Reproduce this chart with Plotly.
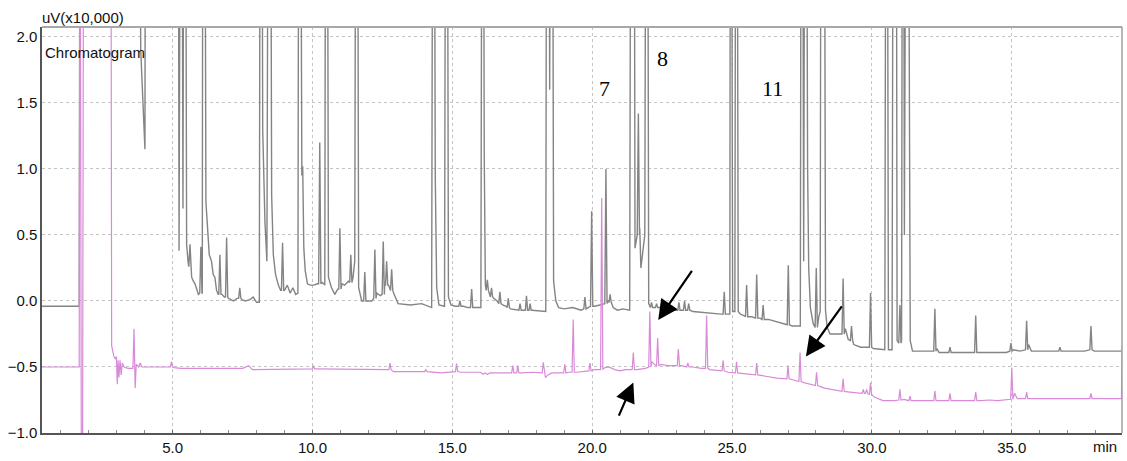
import plotly.graph_objects as go

OFF = 4.0  # value beyond the visible range (off-scale peak)

# ---------------- data (time in min, signal in uV x10,000) ----------------
GRAY_PROFILE = [
    (0.33, -0.04), (1.66, -0.04), (1.69, OFF), (3.80, OFF), (3.86, 1.9), (3.96, 1.3), (4.01, 1.15), (4.03, OFF),
    (5.20, OFF), (5.23, 0.38), (5.28, OFF), (5.33, OFF), (5.37, 0.70), (5.40, OFF), (5.46, OFF), (5.50, 0.43), (5.55, 0.30),
    (5.68, 0.18), (5.74, 0.15), (5.80, 0.13), (5.86, 0.09), (5.92, 0.05),
    (6.06, 0.06), (6.08, OFF), (6.15, OFF), (6.19, 0.75), (6.23, 0.58), (6.31, 0.35), (6.39, 0.30), (6.45, 0.20),
    (6.51, 0.18), (6.57, 0.08), (6.63, 0.05),
    (6.76, 0.05), (6.85, 0.03), (7.00, 0.02), (7.08, 0.01), (7.18, 0.0), (7.30, 0.02), (7.48, 0.01), (7.60, 0.0),
    (7.76, 0.01), (7.88, 0.03), (8.00, -0.01), (8.10, -0.01),
    (8.13, OFF), (8.19, OFF), (8.22, 1.3), (8.30, 0.6), (8.37, 0.30), (8.42, OFF), (8.50, OFF), (8.54, 0.8),
    (8.60, 0.35), (8.68, 0.20), (8.78, 0.12), (8.86, 0.08),
    (9.00, 0.08), (9.10, 0.12), (9.20, 0.06), (9.30, 0.10), (9.40, 0.05), (9.48, 0.06), (9.51, OFF), (9.57, OFF),
    (9.60, 1.2), (9.62, 0.95), (9.65, 1.02), (9.69, 0.40), (9.74, 0.23), (9.82, 0.13), (9.92, 0.12), (10.05, 0.12),
    (10.18, 0.13), (10.35, 0.14), (10.44, 0.12), (10.47, OFF), (10.53, OFF), (10.57, 0.18), (10.68, 0.10),
    (10.80, 0.05), (10.90, 0.09),
    (11.05, 0.13), (11.15, 0.12), (11.28, 0.15), (11.45, 0.18), (11.51, 0.30), (11.55, OFF), (11.61, OFF),
    (11.65, 0.10), (11.76, 0.0),
    (11.95, 0.0), (12.12, 0.0), (12.30, 0.06), (12.42, 0.04), (12.58, 0.12), (12.72, 0.12), (12.90, 0.06),
    (13.06, -0.02), (13.50, -0.03), (13.90, -0.02), (14.26, -0.05),
    (14.30, OFF), (14.35, OFF), (14.39, 0.93), (14.44, 0.10), (14.52, -0.03), (14.72, -0.04), (14.76, OFF),
    (14.82, OFF), (14.86, 0.03), (14.95, -0.03), (15.10, -0.04), (15.40, -0.04), (15.55, -0.05), (15.80, -0.05),
    (16.02, -0.05),
    (16.06, OFF), (16.11, OFF), (16.14, 1.1), (16.18, 0.12), (16.32, 0.05), (16.48, 0.02), (16.60, 0.0),
    (16.80, -0.03), (16.92, -0.04), (17.08, -0.06), (17.30, -0.07), (17.55, -0.07), (17.72, -0.07),
    (17.85, -0.07), (18.19, -0.08), (18.34, -0.08),
    (18.37, OFF), (18.45, OFF), (18.48, 1.6), (18.51, OFF), (18.58, OFF), (18.62, 0.15), (18.70, 0.0),
    (18.80, -0.05), (19.00, -0.06), (19.30, -0.05), (19.60, -0.07), (19.85, -0.05), (20.10, -0.04), (20.30, -0.03),
    (20.56, 0.0), (20.75, -0.05), (20.90, -0.07), (21.10, -0.06), (21.34, -0.07),
    (21.38, OFF), (21.50, OFF), (21.53, 0.40), (21.59, 0.50), (21.70, 0.55), (21.74, 0.25), (21.80, 0.35),
    (21.88, 0.5), (21.92, OFF), (21.98, OFF), (22.02, -0.02), (22.20, -0.05), (22.40, -0.05), (22.60, -0.07),
    (22.90, -0.07), (23.20, -0.07), (23.37, -0.07), (23.60, -0.08), (24.00, -0.09), (24.40, -0.10), (24.60, -0.10),
    (24.84, -0.10), (24.92, -0.10),
    (24.94, OFF), (24.98, OFF), (25.02, -0.08), (25.10, -0.08), (25.13, OFF), (25.18, OFF), (25.22, -0.08),
    (25.30, -0.10), (25.42, -0.11), (25.70, -0.12), (26.00, -0.13), (26.30, -0.14), (26.60, -0.16), (26.90, -0.18),
    (27.15, -0.19), (27.40, -0.19), (27.44, -0.19),
    (27.47, OFF), (27.52, OFF), (27.56, 0.3), (27.60, OFF), (27.66, OFF), (27.70, 1.02), (27.74, 0.25),
    (27.80, -0.05), (27.90, -0.17), (28.10, -0.12), (28.15, -0.08), (28.18, OFF), (28.30, OFF), (28.34, -0.07),
    (28.40, -0.20), (28.50, -0.25), (28.85, -0.25), (29.05, -0.21), (29.15, -0.29), (29.35, -0.33), (29.60, -0.35),
    (29.85, -0.35), (30.05, -0.36), (30.46, -0.37),
    (30.50, OFF), (30.55, OFF), (30.59, -0.37), (30.72, -0.37), (30.76, OFF), (30.87, OFF), (30.90, -0.30),
    (31.06, -0.30), (31.09, OFF), (31.13, OFF), (31.16, 0.5), (31.22, OFF), (31.30, OFF), (31.33, 1.3),
    (31.37, -0.30), (31.45, -0.38),
    (31.60, -0.38), (32.10, -0.38), (32.32, -0.36), (32.40, -0.39), (33.00, -0.39), (33.50, -0.39), (34.00, -0.39),
    (34.80, -0.39), (35.06, -0.37), (35.30, -0.38), (35.60, -0.33), (35.70, -0.38), (36.50, -0.38), (37.60, -0.38),
    (37.95, -0.38), (38.94, -0.38),
]

GRAY_PEAK_T = [5.62, 6.01, 6.69, 6.93, 7.40, 8.93, 10.26, 10.98, 11.37, 11.87, 12.23, 12.53, 12.65, 12.83,
               15.27, 15.69, 16.25, 16.40, 16.70, 17.00, 17.42, 17.65, 17.78, 19.74, 19.98, 20.49, 20.64, 21.65,
               22.12, 22.30, 23.10, 23.30, 23.45, 24.72, 25.52, 25.88, 26.11, 27.01, 28.01, 28.97, 29.27, 29.95,
               31.00, 32.25, 32.79, 33.71, 34.97, 35.53, 36.72, 37.83]
GRAY_PEAK_TOP = [0.43, 0.41, 0.35, 0.48, 0.10, 0.44, 1.2, 0.55, 0.35, 0.22, 0.39, 0.45, 0.30, 0.24,
                 0.0, 0.09, 0.16, 0.10, 0.07, 0.02, -0.02, 0.04, -0.02, 0.03, 0.68, 1.0, 0.05, 1.42,
                 -0.01, -0.02, -0.01, 0.0, -0.02, 0.07, 0.12, 0.20, -0.03, 0.27, 0.25, 0.17, -0.19, 0.06,
                 -0.03, -0.06, -0.35, -0.11, -0.32, -0.15, -0.35, -0.19]
GRAY_PEAK_FOOT = [0.26, 0.06, 0.05, 0.03, 0.02, 0.08, 0.13, 0.09, 0.14, 0.0, 0.02, 0.05, 0.12, 0.08,
                  -0.04, -0.05, 0.08, 0.03, -0.02, -0.05, -0.07, -0.07, -0.07, -0.06, -0.04, -0.02, -0.01, 0.5,
                  -0.05, -0.05, -0.07, -0.07, -0.07, -0.10, -0.12, -0.13, -0.14, -0.18, -0.2, -0.25, -0.30, -0.35,
                  -0.32, -0.38, -0.39, -0.39, -0.38, -0.37, -0.38, -0.37]

PINK_PROFILE = [
    (0.33, -0.50), (1.66, -0.50), (1.69, OFF), (1.76, -OFF), (1.82, OFF), (2.79, OFF), (2.82, -0.34), (2.86, -0.38),
    (2.90, -0.42), (2.95, -0.44), (2.99, -0.42), (3.02, -0.63), (3.05, -0.45), (3.08, -0.58), (3.12, -0.45),
    (3.16, -0.56), (3.20, -0.47), (3.26, -0.50), (3.40, -0.51), (3.58, -0.51), (3.62, -0.21), (3.66, -0.66),
    (3.70, -0.48), (3.78, -0.50), (3.84, -0.47), (3.90, -0.50), (4.20, -0.50), (4.85, -0.50), (5.05, -0.505),
    (5.30, -0.51), (7.50, -0.51), (7.72, -0.49), (7.85, -0.52), (8.50, -0.52), (9.50, -0.515), (9.95, -0.515),
    (10.10, -0.515), (12.50, -0.515), (12.90, -0.535), (13.80, -0.535), (14.10, -0.535), (14.60, -0.545),
    (14.90, -0.54), (15.30, -0.54), (16.00, -0.54), (16.10, -0.555), (16.17, -0.545), (16.25, -0.555),
    (16.35, -0.545), (16.60, -0.545), (17.00, -0.545), (17.25, -0.545), (17.50, -0.545), (17.90, -0.54),
    (18.15, -0.545), (18.33, -0.58), (18.42, -0.56), (18.55, -0.545), (18.85, -0.545), (19.15, -0.54),
    (19.45, -0.54), (19.70, -0.535), (20.05, -0.52), (20.25, -0.52), (20.45, -0.505), (20.60, -0.50),
    (20.80, -0.52), (21.00, -0.53), (21.20, -0.52), (21.60, -0.52), (21.90, -0.51), (22.13, -0.46),
    (22.22, -0.48), (22.45, -0.48), (22.70, -0.49), (23.20, -0.49), (23.60, -0.50), (23.90, -0.51),
    (24.20, -0.52), (24.50, -0.53), (24.85, -0.54), (25.40, -0.55), (25.70, -0.56), (26.20, -0.57),
    (26.60, -0.585), (27.20, -0.60), (27.60, -0.62), (28.30, -0.66), (28.70, -0.675), (29.20, -0.69),
    (29.50, -0.695), (30.10, -0.73), (30.40, -0.755), (30.80, -0.755), (31.15, -0.745), (31.60, -0.755),
    (32.10, -0.755), (32.50, -0.755), (33.20, -0.755), (33.90, -0.755), (34.20, -0.75), (34.50, -0.755),
    (34.90, -0.75), (35.10, -0.70), (35.20, -0.74), (35.70, -0.74), (36.50, -0.737), (37.50, -0.74),
    (38.00, -0.74), (38.92, -0.74), (38.94, -0.34),
]

PINK_PEAK_T = [4.96, 10.03, 12.77, 14.05, 15.15, 17.16, 17.34, 18.25, 19.02, 19.32, 19.92, 20.34, 21.47, 22.06,
               22.34, 23.08, 23.42, 24.09, 24.68, 25.16, 25.88, 27.00, 27.43, 28.02, 28.97, 29.69, 29.81, 29.95,
               31.00, 31.36, 32.25, 32.79, 33.71, 35.00, 35.53, 37.83]
PINK_PEAK_TOP = [-0.46, -0.49, -0.47, -0.52, -0.475, -0.49, -0.49, -0.465, -0.48, -0.14, -0.47, 0.78, -0.39, -0.08,
                 -0.28, -0.365, -0.47, -0.11, -0.45, -0.46, -0.47, -0.49, -0.39, -0.54, -0.59, -0.67, -0.67, -0.62,
                 -0.67, -0.72, -0.68, -0.70, -0.69, -0.505, -0.69, -0.70]
PINK_PEAK_FOOT = [-0.50, -0.515, -0.52, -0.535, -0.535, -0.545, -0.545, -0.545, -0.545, -0.54, -0.53, -0.52, -0.52,
                  -0.50, -0.49, -0.49, -0.50, -0.51, -0.53, -0.545, -0.56, -0.59, -0.61, -0.64, -0.685, -0.70,
                  -0.70, -0.71, -0.75, -0.755, -0.755, -0.755, -0.755, -0.745, -0.74, -0.74]

# peak labels and arrows (data coordinates)
LABEL_TEXT = ["7", "8", "11"]
LABEL_T = [20.45, 22.53, 26.45]
LABEL_V = [1.61, 1.84, 1.61]

ARROW_HEAD_T = [22.36, 27.64, 21.47]
ARROW_HEAD_V = [-0.144, -0.42, -0.617]
ARROW_TAIL_T = [23.60, 28.96, 20.93]
ARROW_TAIL_V = [0.24, -0.03, -0.88]

X_RANGE = [0.33, 38.94]
Y_RANGE = [-1.0, 2.075]

# ---------------- build traces ----------------
HALF_W = 0.04  # drawing half-width of a spike (style)


def build(profile, pk_t, pk_top, pk_foot):
    pts = list(profile)
    for t, top, foot in zip(pk_t, pk_top, pk_foot):
        pts += [(t - HALF_W, foot), (t, top), (t + HALF_W, foot)]
    pts.sort(key=lambda p: p[0])
    return [p[0] for p in pts], [p[1] for p in pts]


gx, gy = build(GRAY_PROFILE, GRAY_PEAK_T, GRAY_PEAK_TOP, GRAY_PEAK_FOOT)
px, py = build(PINK_PROFILE, PINK_PEAK_T, PINK_PEAK_TOP, PINK_PEAK_FOOT)

fig = go.Figure()
fig.add_trace(go.Scatter(x=gx, y=gy, mode="lines", line=dict(color="#848484", width=1.4),
                         hoverinfo="skip", showlegend=False))
fig.add_trace(go.Scatter(x=px, y=py, mode="lines", line=dict(color="#d88ad8", width=1.2),
                         hoverinfo="skip", showlegend=False))

FONT = "Liberation Sans, Arial, sans-serif"

annotations = []
for txt, t, v in zip(LABEL_TEXT, LABEL_T, LABEL_V):
    annotations.append(dict(x=t, y=v, xref="x", yref="y", text=txt, showarrow=False,
                            font=dict(family="Liberation Serif, Times New Roman, serif", size=22, color="black")))
for ht, hv, tt, tv in zip(ARROW_HEAD_T, ARROW_HEAD_V, ARROW_TAIL_T, ARROW_TAIL_V):
    annotations.append(dict(x=ht, y=hv, ax=tt, ay=tv, xref="x", yref="y", axref="x", ayref="y",
                            text="", showarrow=True, arrowhead=2, arrowsize=1.8, arrowwidth=2.2,
                            arrowcolor="black"))

annotations += [
    dict(xref="paper", yref="paper", x=-0.002, y=1.0, yshift=10, xanchor="left", yanchor="middle",
         text="uV(x10,000)", showarrow=False, font=dict(family=FONT, size=15, color="#111111")),
    dict(xref="paper", yref="paper", x=0.001, y=1.0, yshift=-25, xanchor="left", yanchor="middle",
         text="Chromatogram", showarrow=False, font=dict(family=FONT, size=15, color="#111111")),
    dict(xref="paper", yref="paper", x=0.984, y=0.0, yshift=-13, xanchor="center", yanchor="middle",
         text="min", showarrow=False, font=dict(family=FONT, size=15, color="#111111")),
]

fig.update_layout(
    width=1127, height=461,
    margin=dict(l=42, r=5, t=27, b=22),
    plot_bgcolor="white", paper_bgcolor="white",
    showlegend=False,
    annotations=annotations,
    shapes=[
        dict(type="line", xref="paper", yref="paper", x0=0, x1=1, y0=1, y1=1,
             line=dict(color="#a8a8a8", width=2)),
        dict(type="line", xref="paper", yref="paper", x0=1, x1=1, y0=0, y1=1,
             line=dict(color="#a0a0a0", width=1.5)),
    ],
)

fig.update_xaxes(
    range=X_RANGE, tick0=0, dtick=5, tickformat=".1f",
    showgrid=True, gridcolor="#c4c4c4", griddash="dot", gridwidth=1,
    showline=True, linecolor="#555555", linewidth=1.5,
    ticks="inside", ticklen=3, tickcolor="#666666",
    minor=dict(dtick=1, tick0=0, ticks="inside", ticklen=3, tickcolor="#888888", showgrid=False),
    zeroline=False,
    tickfont=dict(family=FONT, size=15, color="#111111"),
)
fig.update_yaxes(
    range=Y_RANGE, tick0=0, dtick=0.5, tickformat=".1f",
    showgrid=True, gridcolor="#c4c4c4", griddash="dot", gridwidth=1,
    showline=True, linecolor="#555555", linewidth=1.5,
    ticks="", zeroline=False,
    tickfont=dict(family=FONT, size=15, color="#111111"),
)

fig.write_html("out.html")
